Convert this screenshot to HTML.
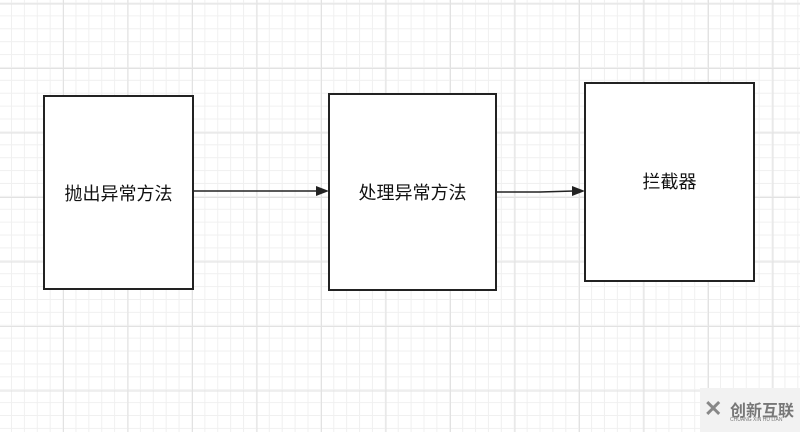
<!DOCTYPE html>
<html><head><meta charset="utf-8"><style>
html,body{margin:0;padding:0}
body{width:800px;height:432px;position:relative;overflow:hidden;background:#fff;
background-image:
linear-gradient(to right,#e2e2e2 1px,transparent 1px),
linear-gradient(to bottom,#e2e2e2 1px,transparent 1px),
linear-gradient(to right,#f0f0f0 1px,transparent 1px),
linear-gradient(to bottom,#f0f0f0 1px,transparent 1px);
background-size:64.5px 64.5px,64.5px 64.5px,12.9px 12.9px,12.9px 12.9px;
background-position:-1.5px 3.5px,-1.5px 3.5px,11px 2.5px,11px 2.5px;}
.b{position:absolute;border:2px solid #222;background:#fff;box-sizing:border-box;display:flex;align-items:center;justify-content:center;font-family:"Liberation Sans","Noto Sans CJK SC",sans-serif;font-size:18px;color:#111}
.wm{position:absolute;left:700px;top:388px;width:100px;height:44px;background:#f2f2f2;font-family:"Liberation Sans","Noto Sans CJK SC",sans-serif;color:#777}
</style></head><body>
<div class="b" style="left:43px;top:95px;width:151px;height:195px">抛出异常方法</div>
<div class="b" style="left:328px;top:93px;width:169px;height:198px">处理异常方法</div>
<div class="b" style="left:584px;top:82px;width:171px;height:200px;align-items:flex-start;padding-top:84px">拦截器</div>
<svg width="800" height="432" style="position:absolute;left:0;top:0">
<line x1="194" y1="191" x2="318" y2="191" stroke="#222" stroke-width="1.5"/>
<polygon points="329,191 316,186 316,196" fill="#222"/>
<polyline points="497,192 540,192 574,191" fill="none" stroke="#222" stroke-width="1.5"/>
<polygon points="585,191 572,186 572,196" fill="#222"/>
</svg>
<div class="wm"><div style="position:absolute;left:4px;top:8px;font-size:22px;font-weight:bold;color:#888">✕</div>
<div style="position:absolute;left:30px;top:9px;font-size:16px;font-weight:bold">创新互联</div>
<div style="position:absolute;left:30px;top:29px;font-size:5px">CHUANG XIN HU LIAN</div></div>
</body></html>
